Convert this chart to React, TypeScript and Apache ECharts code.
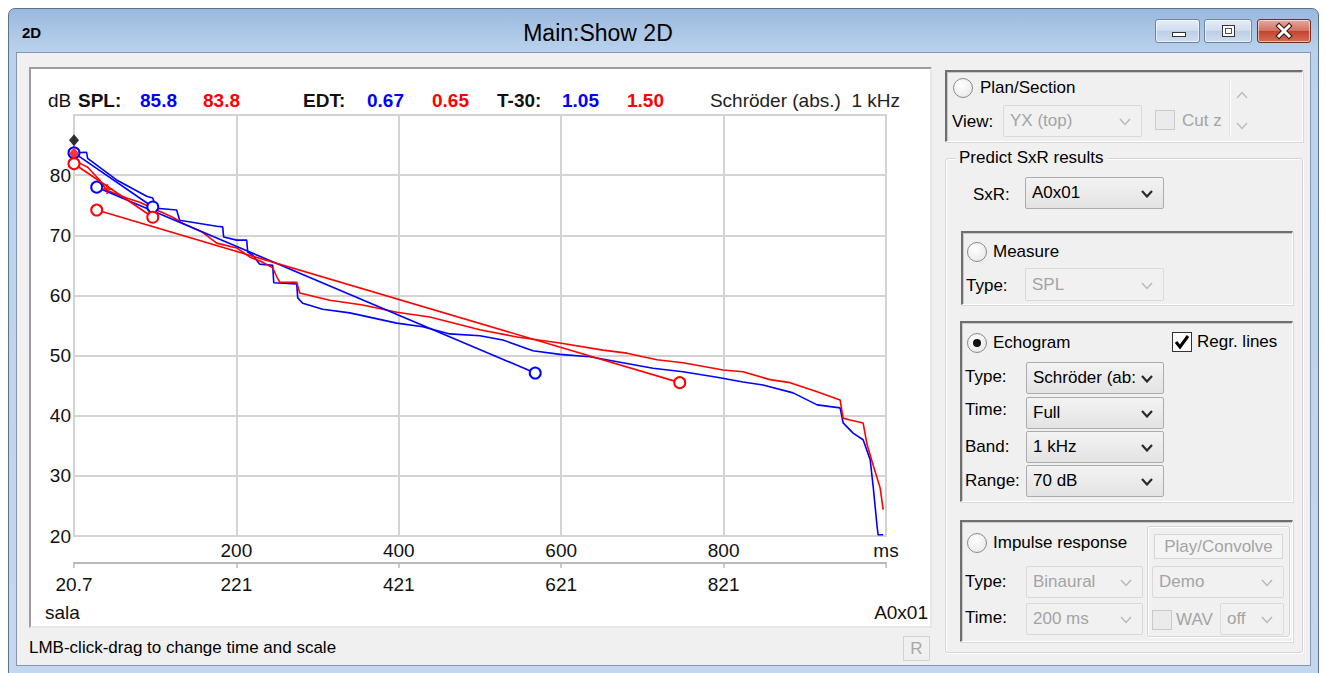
import React, { useEffect, useRef } from "react";
import * as echarts from "echarts";

// ---------- data ----------
const timeTicksMs = [0, 200, 400, 600, 800, 1000];
const absoluteTimeOffsetMs = 20.7;
const levelTicksDb = [20, 30, 40, 50, 60, 70, 80, 90];

const blueSchroederMs = [0, 15.5, 16.8, 52.5, 89.5, 96.9, 101.8, 126.4, 130.1, 175.7, 183.1, 184.3, 200.4, 212.7, 213.9, 220.1, 228.7, 244.7, 246.0, 274.3, 275.5, 281.7, 306.3, 339.6, 397.5, 429.5, 462.8, 499.8, 528.1, 565.1, 598.4, 635.4, 713.0, 750.0, 791.9, 823.9, 848.6, 885.6, 915.2, 943.5, 947.2, 959.5, 971.8, 980.5, 984.2, 989.1, 990.3, 996.5];
const blueSchroederDb = [83.7, 83.8, 82.8, 79.2, 76.5, 76.2, 74.5, 74.2, 72.5, 71.5, 71.4, 69.7, 69.2, 69.2, 67.2, 66.7, 65.2, 65.0, 62.1, 61.9, 59.6, 58.7, 57.7, 57.1, 55.4, 54.8, 53.6, 53.3, 52.6, 50.8, 50.2, 49.8, 47.9, 47.3, 46.4, 45.6, 45.1, 43.8, 41.8, 41.3, 38.8, 37.1, 36.0, 32.7, 28.2, 21.5, 20.2, 20.2];

const redSchroederMs = [0, 6.9, 16.8, 31.5, 40.2, 64.8, 80.8, 121.5, 133.8, 158.5, 175.7, 200.4, 216.4, 232.5, 244.7, 249.7, 253.4, 274.3, 278.0, 315.0, 355.6, 397.5, 438.2, 499.8, 545.4, 598.4, 651.4, 680.9, 717.9, 750.0, 799.3, 823.9, 857.2, 881.8, 915.2, 943.5, 947.2, 955.8, 971.8, 976.7, 984.1, 992.8, 996.5];
const redSchroederDb = [83.6, 82.0, 81.3, 79.2, 77.5, 76.2, 75.5, 73.0, 72.0, 70.5, 68.7, 67.9, 66.4, 65.5, 64.6, 63.1, 62.2, 62.2, 60.4, 59.2, 58.4, 57.2, 56.4, 54.3, 53.1, 52.1, 50.9, 50.4, 49.3, 48.8, 47.6, 47.3, 46.0, 45.5, 44.0, 42.6, 39.6, 39.3, 38.8, 35.2, 31.8, 28.0, 24.4];

const blueEdtMs = [0, 97];
const blueEdtDb = [83.7, 74.7];
const redEdtMs = [0, 97];
const redEdtDb = [81.9, 73.0];
const blueT30Ms = [28, 568];
const blueT30Db = [78.0, 47.1];
const redT30Ms = [28, 746];
const redT30Db = [74.2, 45.5];

const splMarkerMs = [0];
const splMarkerDb = [85.8];
const redStartMarkerMs = [0];
const redStartMarkerDb = [83.6];
const redCrossMs = [41];
const redCrossDb = [77.7];

const splValues = [85.8, 83.8];
const edtValues = [0.67, 0.65];
const t30Values = [1.05, 1.5];

// ---------- styles ----------
const FONT = '"Liberation Sans", Arial, Helvetica, sans-serif';
const GRID = "#d3d3d3";
const BLUE = "#0000ff";
const RED = "#ff0000";
const INK = "#111111";

const zip = (a: number[], b: number[]) => a.map((v, i) => [v, b[i]]);

function Chart() {
  const ref = useRef<HTMLDivElement>(null);
  useEffect(() => {
    if (!ref.current) return;
    const chart = echarts.init(ref.current, undefined, { renderer: "svg" });
    const txt = (x: number, y: number, text: string, fill: string, bold: boolean, align = "left") => ({
      type: "text",
      x,
      y,
      silent: true,
      style: {
        text,
        fill,
        font: `${bold ? "bold " : ""}19px ${FONT}`,
        align,
        verticalAlign: "middle",
      },
    });
    const lineSeries = (ms: number[], db: number[], color: string, symbols: boolean, z: number) => ({
      type: "line",
      data: zip(ms, db),
      xAxisIndex: 0,
      yAxisIndex: 0,
      showSymbol: symbols,
      symbol: "emptyCircle",
      symbolSize: 11,
      silent: true,
      z,
      lineStyle: { color, width: 1.6 },
      itemStyle: { color, borderWidth: 1.6 },
    });
    chart.setOption({
      animation: false,
      grid: { left: 43, top: 46, width: 812, height: 421, show: true, borderColor: GRID, borderWidth: 2 },
      xAxis: [
        {
          type: "value",
          min: timeTicksMs[0],
          max: timeTicksMs[timeTicksMs.length - 1],
          interval: timeTicksMs[1] - timeTicksMs[0],
          position: "bottom",
          axisLine: { show: true, onZero: false, lineStyle: { color: GRID, width: 2 } },
          axisTick: { show: false },
          splitLine: { show: true, lineStyle: { color: GRID, width: 2 } },
          axisLabel: {
            margin: 5,
            fontSize: 19,
            fontFamily: FONT,
            color: INK,
            showMinLabel: true,
            showMaxLabel: true,
            formatter: (v: number) => (v === 0 ? "" : v === 1000 ? "ms" : String(v)),
          },
        },
        {
          type: "value",
          min: timeTicksMs[0],
          max: timeTicksMs[timeTicksMs.length - 1],
          interval: timeTicksMs[1] - timeTicksMs[0],
          position: "bottom",
          offset: 27,
          axisLine: { show: true, onZero: false, lineStyle: { color: "#b9b9b9", width: 2 } },
          axisTick: { show: true, length: 5, lineStyle: { color: "#b9b9b9", width: 1.5 } },
          splitLine: { show: false },
          axisLabel: {
            margin: 12,
            fontSize: 19,
            fontFamily: FONT,
            color: INK,
            showMinLabel: true,
            showMaxLabel: true,
            formatter: (v: number) =>
              v === 1000 ? "" : v === 0 ? absoluteTimeOffsetMs.toFixed(1) : String(Math.round(v + absoluteTimeOffsetMs)),
          },
        },
      ],
      yAxis: {
        type: "value",
        min: levelTicksDb[0],
        max: levelTicksDb[levelTicksDb.length - 1],
        interval: levelTicksDb[1] - levelTicksDb[0],
        axisLine: { show: true, lineStyle: { color: GRID, width: 2 } },
        axisTick: { show: false },
        splitLine: { show: true, lineStyle: { color: GRID, width: 2 } },
        axisLabel: {
          margin: 3,
          fontSize: 19,
          fontFamily: FONT,
          color: INK,
          formatter: (v: number) => (v === 90 ? "" : String(v)),
        },
      },
      graphic: [
        txt(17, 31, "dB", INK, false),
        txt(47, 31, "SPL:", INK, true),
        txt(109, 31, splValues[0].toFixed(1), BLUE, true),
        txt(172, 31, splValues[1].toFixed(1), RED, true),
        txt(272, 31, "EDT:", INK, true),
        txt(336, 31, edtValues[0].toFixed(2), BLUE, true),
        txt(401, 31, edtValues[1].toFixed(2), RED, true),
        txt(466, 31, "T-30:", INK, true),
        txt(531, 31, t30Values[0].toFixed(2), BLUE, true),
        txt(596, 31, t30Values[1].toFixed(2), RED, true),
        txt(869, 31, "Schröder (abs.)  1 kHz", "#222", false, "right"),
        txt(14, 543, "sala", INK, false),
        txt(897, 543, "A0x01", INK, false, "right"),
      ],
      series: [
        lineSeries(blueSchroederMs, blueSchroederDb, BLUE, false, 2),
        lineSeries(redSchroederMs, redSchroederDb, RED, false, 3),
        lineSeries(blueT30Ms, blueT30Db, BLUE, true, 4),
        lineSeries(redT30Ms, redT30Db, RED, true, 5),
        lineSeries(blueEdtMs, blueEdtDb, BLUE, true, 6),
        lineSeries(redEdtMs, redEdtDb, RED, true, 7),
        {
          type: "scatter",
          data: zip(splMarkerMs, splMarkerDb),
          symbol: "diamond",
          symbolSize: [10, 12],
          itemStyle: { color: "#000" },
          clip: false,
          silent: true,
          z: 8,
        },
        {
          type: "scatter",
          data: zip(redStartMarkerMs, redStartMarkerDb),
          symbol: "diamond",
          symbolSize: [10, 12],
          itemStyle: { color: RED },
          clip: false,
          silent: true,
          z: 9,
        },
        {
          type: "scatter",
          data: zip(redCrossMs, redCrossDb),
          symbol: "path://M4 0h2v4h4v2h-4v4h-2v-4h-4v-2h4z",
          symbolSize: 10,
          itemStyle: { color: RED },
          clip: false,
          silent: true,
          z: 9,
        },
      ],
    });
    return () => chart.dispose();
  }, []);
  return (
    <div
      ref={ref}
      style={{ position: "absolute", left: 31, top: 69, width: 899, height: 557, background: "#fff" }}
    />
  );
}

// ---------- UI widgets ----------
function Label(props: { x: number; y: number; text: string; color?: string; size?: number; weight?: number }) {
  return (
    <div
      style={{
        position: "absolute",
        left: props.x,
        top: props.y - 11,
        height: 22,
        lineHeight: "22px",
        fontSize: props.size || 17,
        fontWeight: props.weight || 400,
        color: props.color || "#000",
        whiteSpace: "nowrap",
      }}
    >
      {props.text}
    </div>
  );
}

function Chevron(props: { x: number; y: number; color: string; up?: boolean; sw?: number }) {
  return (
    <svg style={{ position: "absolute", left: props.x, top: props.y }} width={12} height={8}>
      <polyline
        points={props.up ? "1,7 6,1.5 11,7" : "1,1 6,6.5 11,1"}
        fill="none"
        stroke={props.color}
        strokeWidth={props.sw || 2}
      />
    </svg>
  );
}

function Combo(props: { x: number; y: number; w: number; h?: number; text: string; disabled?: boolean }) {
  const h = props.h || 32;
  const d = !!props.disabled;
  return (
    <div
      style={{
        position: "absolute",
        left: props.x,
        top: props.y,
        width: props.w,
        height: h,
        boxSizing: "border-box",
        border: `1px solid ${d ? "#d9d9d9" : "#acacac"}`,
        background: d ? "#f1f1f1" : "linear-gradient(#f3f3f3, #e3e3e3)",
        borderRadius: 2,
      }}
    >
      <div
        style={{
          position: "absolute",
          left: 6,
          top: 0,
          lineHeight: `${h - 2}px`,
          fontSize: 17,
          color: d ? "#a4a4a4" : "#000",
          whiteSpace: "nowrap",
        }}
      >
        {props.text}
      </div>
      <Chevron x={props.w - 24} y={(h - 2) / 2 - 3} color={d ? "#b9b9b9" : "#2a2a2a"} sw={d ? 1.5 : 2.2} />
    </div>
  );
}

function Radio(props: { cx: number; cy: number; checked?: boolean }) {
  return (
    <div
      style={{
        position: "absolute",
        left: props.cx - 10,
        top: props.cy - 10,
        width: 20,
        height: 20,
        boxSizing: "border-box",
        borderRadius: "50%",
        border: "1px solid #8a8a8a",
        background: "radial-gradient(circle at 40% 35%, #ffffff, #e4e4e4)",
      }}
    >
      {props.checked && (
        <div
          style={{ position: "absolute", left: 5, top: 5, width: 8, height: 8, borderRadius: "50%", background: "#111" }}
        />
      )}
    </div>
  );
}

function Check(props: { x: number; y: number; checked?: boolean; disabled?: boolean }) {
  return (
    <div
      style={{
        position: "absolute",
        left: props.x,
        top: props.y,
        width: 20,
        height: 20,
        boxSizing: "border-box",
        border: `1px solid ${props.disabled ? "#c9c9c9" : "#333"}`,
        background: props.disabled ? "#ebebeb" : "#fff",
      }}
    >
      {props.checked && (
        <svg width={18} height={18} style={{ position: "absolute", left: 0, top: 0 }}>
          <polyline points="3,9 7,14 15,3" fill="none" stroke="#000" strokeWidth={3} />
        </svg>
      )}
    </div>
  );
}

function Sunken(props: { l: number; t: number; r: number; b: number }) {
  return (
    <div
      style={{
        position: "absolute",
        left: props.l,
        top: props.t,
        width: props.r - props.l,
        height: props.b - props.t,
        boxSizing: "border-box",
        borderTop: "2px solid #6f6f6f",
        borderLeft: "2px solid #6f6f6f",
        borderRight: "1px solid #ffffff",
        borderBottom: "1px solid #ffffff",
        boxShadow: "1px 1px 0 #d8d8d8, inset 1px 1px 0 #c9c9c9",
      }}
    />
  );
}

function Etched(props: { l: number; t: number; r: number; b: number }) {
  return (
    <div
      style={{
        position: "absolute",
        left: props.l,
        top: props.t,
        width: props.r - props.l,
        height: props.b - props.t,
        boxSizing: "border-box",
        border: "1px solid #d5d5d5",
        borderRadius: 3,
        boxShadow: "inset 1px 1px 0 #ffffff, 1px 1px 0 #ffffff",
      }}
    />
  );
}

function CaptionButton(props: { x: number; w: number; close?: boolean; kind: string }) {
  return (
    <div
      style={{
        position: "absolute",
        left: props.x,
        top: 19,
        width: props.w,
        height: 24,
        boxSizing: "border-box",
        border: `1px solid ${props.close ? "#7a2a22" : "#6e84a2"}`,
        borderRadius: 3,
        background: props.close
          ? "linear-gradient(#e9a99b, #d0705f 50%, #c2432f 51%, #d2705a)"
          : "linear-gradient(#e6eef8, #cddcee 50%, #bccee6 51%, #cfdff1)",
        boxShadow: "inset 0 0 0 1px rgba(255,255,255,0.55)",
      }}
    >
      {props.kind === "min" && (
        <div
          style={{
            position: "absolute",
            left: props.w / 2 - 7,
            top: 12,
            width: 14,
            height: 5,
            boxSizing: "border-box",
            border: "1px solid #333",
            background: "#fff",
          }}
        />
      )}
      {props.kind === "max" && (
        <div
          style={{
            position: "absolute",
            left: props.w / 2 - 7,
            top: 5,
            width: 13,
            height: 12,
            boxSizing: "border-box",
            border: "1px solid #333",
            background: "#fff",
          }}
        >
          <div style={{ position: "absolute", left: 2, top: 2, width: 7, height: 6, border: "1px solid #555", boxSizing: "border-box" }} />
        </div>
      )}
      {props.kind === "close" && (
        <svg width={props.w - 2} height={22} style={{ position: "absolute", left: 0, top: 0 }}>
          <g stroke="#3a1510" strokeWidth={5} strokeLinecap="square">
            <line x1={(props.w - 2) / 2 - 5} y1={6} x2={(props.w - 2) / 2 + 5} y2={16} />
            <line x1={(props.w - 2) / 2 + 5} y1={6} x2={(props.w - 2) / 2 - 5} y2={16} />
          </g>
          <g stroke="#ffffff" strokeWidth={3} strokeLinecap="square">
            <line x1={(props.w - 2) / 2 - 5} y1={6} x2={(props.w - 2) / 2 + 5} y2={16} />
            <line x1={(props.w - 2) / 2 + 5} y1={6} x2={(props.w - 2) / 2 - 5} y2={16} />
          </g>
        </svg>
      )}
    </div>
  );
}

export default function App() {
  return (
    <div
      style={{
        position: "absolute",
        left: 0,
        top: 0,
        width: 1326,
        height: 673,
        overflow: "hidden",
        background: "#ffffff",
        fontFamily: FONT,
      }}
    >
      {/* window frame */}
      <div
        style={{
          position: "absolute",
          left: 8,
          top: 8,
          width: 1311,
          height: 680,
          boxSizing: "border-box",
          border: "1px solid #5f728b",
          borderRadius: "7px 7px 0 0",
          background: "linear-gradient(180deg, #9ab8de 0px, #abc6e6 22px, #bad2ec 44px, #c3d8ef 100%)",
        }}
      />
      <Label x={22} y={33} text="2D" size={15} weight={700} />
      <div
        style={{
          position: "absolute",
          left: 400,
          width: 396,
          top: 19,
          height: 28,
          lineHeight: "28px",
          textAlign: "center",
          fontSize: 23,
          color: "#000",
        }}
      >
        Main:Show 2D
      </div>
      <CaptionButton x={1155} w={45} kind="min" />
      <CaptionButton x={1204} w={48} kind="max" />
      <CaptionButton x={1257} w={54} kind="close" close />

      {/* client area */}
      <div
        style={{
          position: "absolute",
          left: 16,
          top: 52,
          width: 1295,
          height: 614,
          boxSizing: "border-box",
          border: "1px solid #8597ae",
          background: "#f0f0f0",
        }}
      />

      {/* chart box */}
      <div
        style={{
          position: "absolute",
          left: 29,
          top: 67,
          width: 903,
          height: 561,
          boxSizing: "border-box",
          borderTop: "2px solid #9c9c9c",
          borderLeft: "2px solid #9c9c9c",
          borderRight: "2px solid #e6e6e6",
          borderBottom: "2px solid #e6e6e6",
          background: "#fff",
        }}
      />
      <Chart />

      {/* status bar */}
      <Label x={29} y={648} text="LMB-click-drag to change time and scale" size={17} />
      <div
        style={{
          position: "absolute",
          left: 903,
          top: 636,
          width: 27,
          height: 25,
          boxSizing: "border-box",
          border: "1px solid #d2d2d2",
          color: "#a8a8a8",
          fontSize: 17,
          lineHeight: "23px",
          textAlign: "center",
        }}
      >
        R
      </div>

      {/* Plan/Section */}
      <Sunken l={945} t={70} r={1303} b={142} />
      <Radio cx={963} cy={88} />
      <Label x={980} y={88} text="Plan/Section" />
      <Label x={952} y={122} text="View:" />
      <Combo x={1003} y={105} w={139} text="YX (top)" disabled />
      <Check x={1155} y={110} disabled />
      <Label x={1182} y={121} text="Cut z" color="#a4a4a4" />
      <div style={{ position: "absolute", left: 1230, top: 80, width: 1, height: 57, background: "#ffffff", boxShadow: "-1px 0 0 #e2e2e2" }} />
      <Chevron x={1236} y={91} color="#bdbdbd" up sw={1.5} />
      <Chevron x={1236} y={122} color="#bdbdbd" sw={1.5} />

      {/* Predict SxR results */}
      <Etched l={945} t={158} r={1303} b={653} />
      <div
        style={{
          position: "absolute",
          left: 956,
          top: 147,
          height: 22,
          lineHeight: "22px",
          padding: "0 3px",
          fontSize: 17,
          background: "#f0f0f0",
          color: "#000",
        }}
      >
        Predict SxR results
      </div>
      <Label x={973} y={195} text="SxR:" />
      <Combo x={1025} y={177} w={139} text="A0x01" />

      {/* Measure */}
      <Sunken l={961} t={231} r={1293} b={305} />
      <Radio cx={977} cy={252} />
      <Label x={993} y={252} text="Measure" />
      <Label x={966} y={286} text="Type:" />
      <Combo x={1025} y={268} w={139} h={33} text="SPL" disabled />

      {/* Echogram */}
      <Sunken l={960} t={321} r={1293} b={502} />
      <Radio cx={977} cy={343} checked />
      <Label x={993} y={343} text="Echogram" />
      <Check x={1172} y={332} checked />
      <Label x={1197} y={342} text="Regr. lines" />
      <Label x={965} y={377} text="Type:" />
      <Combo x={1026} y={362} w={138} text="Schröder (ab:" />
      <Label x={965} y={410} text="Time:" />
      <Combo x={1026} y={397} w={138} text="Full" />
      <Label x={965} y={447} text="Band:" />
      <Combo x={1026} y={431} w={138} text="1 kHz" />
      <Label x={965} y={481} text="Range:" />
      <Combo x={1026} y={465} w={138} text="70 dB" />

      {/* Impulse response */}
      <Sunken l={960} t={520} r={1293} b={642} />
      <Radio cx={977} cy={543} />
      <Label x={993} y={543} text="Impulse response" />
      <Etched l={1147} t={526} r={1290} b={637} />
      <div
        style={{
          position: "absolute",
          left: 1154,
          top: 534,
          width: 129,
          height: 25,
          boxSizing: "border-box",
          border: "1px solid #d6d6d6",
          background: "#f4f4f4",
          color: "#a4a4a4",
          fontSize: 17,
          lineHeight: "23px",
          textAlign: "center",
        }}
      >
        Play/Convolve
      </div>
      <Label x={965} y={582} text="Type:" />
      <Combo x={1026} y={566} w={117} text="Binaural" disabled />
      <Combo x={1152} y={566} w={132} text="Demo" disabled />
      <Label x={965} y={618} text="Time:" />
      <Combo x={1026} y={603} w={117} text="200 ms" disabled />
      <Check x={1152} y={610} disabled />
      <Label x={1176} y={620} text="WAV" color="#a4a4a4" />
      <Combo x={1220} y={603} w={64} text="off" disabled />
    </div>
  );
}
